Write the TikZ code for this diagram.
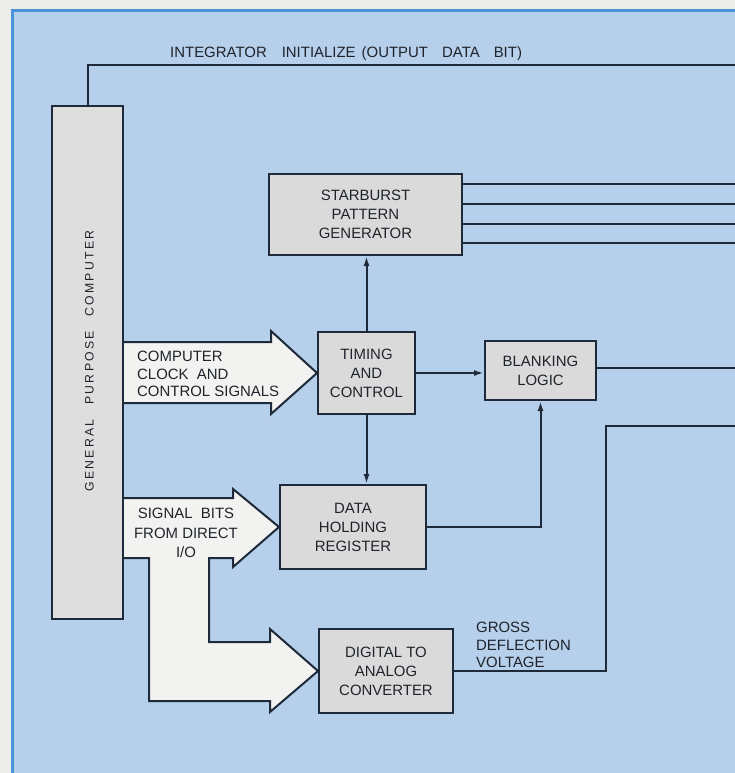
\documentclass[tikz,border=0pt]{standalone}
\usepackage{fontspec}
\setmainfont{Liberation Sans}
\newfontfamily\spacedfont{Liberation Sans}[LetterSpace=18]
\usetikzlibrary{arrows.meta,calc}
\definecolor{outerbg}{HTML}{ECECEA}
\definecolor{panel}{HTML}{B6CFEA}
\definecolor{paneledge}{HTML}{4A93D8}
\definecolor{boxfill}{HTML}{DADADA}
\definecolor{compfill}{HTML}{DEDEDE}
\definecolor{arrowfill}{HTML}{F2F2F0}
\definecolor{ink}{HTML}{1E2A3A}
\definecolor{txt}{HTML}{1F232B}
\begin{document}
\begin{tikzpicture}[x=1bp,y=-1bp,
  blk/.style={draw=ink, line width=2bp, fill=boxfill, text=txt, align=center, inner sep=0pt, font=\fontsize{15}{19}\selectfont},
  wire/.style={draw=ink, line width=2bp},
  arr/.style={wire, -{Latex[length=10bp,width=6bp]}},
  bigarrow/.style={draw=ink, line width=2bp, fill=arrowfill, line join=miter},
  lbl/.style={text=txt, inner sep=0pt, font=\fontsize{15}{17.5}\selectfont}]

\useasboundingbox (0,0) rectangle (735,773);
\fill[outerbg] (0,0) rectangle (735,773);
\fill[panel] (12,11) rectangle (740,780);
\draw[paneledge, line width=3bp] (12,780) -- (12,11) -- (740,11);

% blocks
\node[blk, fill=compfill, minimum width=71bp, minimum height=513bp] (comp) at (87.5,362.5) {};
\node[rotate=90, text=txt, inner sep=0pt, font=\spacedfont\fontsize{12.3}{14}\selectfont] (complabel) at (89.5,361) {GENERAL\hspace{15bp}PURPOSE\hspace{15bp}COMPUTER};
\node[blk, minimum width=193bp, minimum height=81bp] (star) at (365.5,214.5) {STARBURST\\PATTERN\\GENERATOR};
\node[blk, minimum width=97bp, minimum height=82bp] (timing) at (366.5,373) {TIMING\\AND\\CONTROL};
\node[blk, minimum width=111bp, minimum height=59bp] (blank) at (540.5,370.5) {BLANKING\\LOGIC};
\node[blk, minimum width=146bp, minimum height=84bp] (dhr) at (353,527) {DATA\\HOLDING\\REGISTER};
\node[blk, minimum width=134bp, minimum height=84bp] (dac) at (386,671) {DIGITAL TO\\ANALOG\\CONVERTER};

% big hollow arrows
\draw[bigarrow] (124,342) -- (271,342) -- (271,331) -- (timing.west) -- (271,414) -- (271,403) -- (124,403);
\draw[bigarrow] (124,498) -- (233,498) -- (233,489) -- (dhr.west) -- (233,567) -- (233,558) -- (209,558) -- (209,642) -- (270,642) -- (270,629) -- (dac.west) -- (270,712) -- (270,701) -- (149,701) -- (149,558) -- (124,558);

% labels
\node[lbl, align=left, anchor=west] (clocktxt) at (137,374) {COMPUTER\\CLOCK\ \ AND\\CONTROL SIGNALS};
\node[lbl, align=center, font=\fontsize{15}{19.5}\selectfont] (sigtxt) at (186,533) {SIGNAL\ \ BITS\\FROM DIRECT\\I/O};
\node[lbl, align=left, anchor=west] (grosstxt) at (476,645) {GROSS\\DEFLECTION\\VOLTAGE};
\node[lbl, anchor=west, font=\fontsize{15}{18}\selectfont] (inittxt) at (170,54) {INTEGRATOR\hspace{15bp}INITIALIZE\hspace{6bp}(OUTPUT\hspace{14bp}DATA\hspace{14bp}BIT)};

% connectors
\coordinate (initEnd) at (736,65);
\draw[wire] (comp.north) |- (initEnd);
\foreach \yy [count=\i] in {184,204,224,243} {
  \coordinate (sbEnd\i) at (736,\yy);
  \draw[wire] (star.east |- sbEnd\i) -- (sbEnd\i);
}
\draw[arr] (timing.north) -- (timing.north |- star.south);
\draw[arr] (timing.south) -- (timing.south |- dhr.north);
\draw[arr] (timing.east) -- (timing.east -| blank.west);
\coordinate (blankEnd) at (736,368);
\draw[wire] (blank.east |- blankEnd) -- (blankEnd);
\draw[arr] (dhr.east) -| (blank.south);
\coordinate (gdTurn) at (606,426);
\coordinate (gdEnd) at (736,426);
\draw[wire] (dac.east) -| (gdTurn) -- (gdEnd);
\end{tikzpicture}
\end{document}
